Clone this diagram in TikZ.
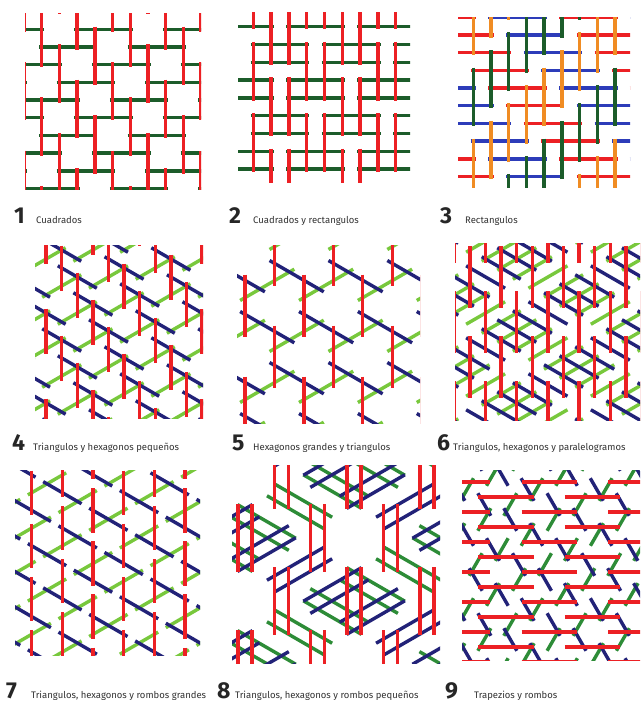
\documentclass[tikz,border=0pt]{standalone}
\usepackage{fontspec}
\setmainfont{Fira Sans}
\definecolor{dg}{RGB}{28,92,42}
\definecolor{rd}{RGB}{236,32,36}
\definecolor{nv}{RGB}{34,34,120}
\definecolor{lg}{RGB}{120,200,60}
\definecolor{mg}{RGB}{45,140,55}
\definecolor{bl}{RGB}{45,60,185}
\definecolor{og}{RGB}{240,140,35}
\tikzset{
 bar/.style={line width=3.4pt},
 bdg/.style={bar,draw=dg}, brd/.style={bar,draw=rd}, bnv/.style={bar,draw=nv},
 blg/.style={bar,draw=lg}, bmg/.style={bar,draw=mg}, bbl/.style={bar,draw=bl}, bog/.style={bar,draw=og},
 num/.style={anchor=base west,font=\fontsize{23}{23}\selectfont\bfseries,text=black!85,inner sep=0},
 lbl/.style={anchor=base west,font=\fontsize{9.5}{10}\selectfont,text=black!80,inner sep=0},
}
\newcommand\geom[6]{\def\ox{#1}\def\oy{#2}\def\ux{#3}\def\uy{#4}\def\vx{#5}\def\vy{#6}}
\newcommand\bars[4]{\def\bl{#1}\def\pp{#2}\def\ov{#3}\def\phx{#4}}
\newcommand\rng[4]{\def\nmin{#1}\def\nmax{#2}\def\mmin{#3}\def\mmax{#4}}
\newcommand\bshift[2]{\def\sx{#1}\def\sy{#2}}
\newcommand\barfam[2]{%
\foreach \n in {\nmin,...,\nmax}{%
 \pgfmathtruncatemacro\raw{\phx}%
 \pgfmathtruncatemacro\fph{mod(mod(\raw,\pp)+\pp,\pp)}%
 \pgfmathtruncatemacro\bq{floor(\raw/\pp)}%
 \foreach \m in {\mmin,...,\mmax}{%
  \pgfmathtruncatemacro\cc{mod(mod(\m+\bq,2)+2,2)}%
  \pgfmathsetmacro\tA{\pp*\m+\fph-\ov}%
  \pgfmathsetmacro\tB{\pp*\m+\fph+\bl+\ov}%
  \pgfmathsetmacro\xA{\ox+\n*\vx+\tA*\ux+\sx}%
  \pgfmathsetmacro\yA{\oy+\n*\vy+\tA*\uy+\sy}%
  \pgfmathsetmacro\xB{\ox+\n*\vx+\tB*\ux+\sx}%
  \pgfmathsetmacro\yB{\oy+\n*\vy+\tB*\uy+\sy}%
  \ifnum\cc=0 \draw[#1] (\xA,\yA) -- (\xB,\yB);\else\draw[#2] (\xA,\yA) -- (\xB,\yB);\fi
 }}}
\begin{document}
\begin{tikzpicture}[x=1pt,y=-1pt]
\useasboundingbox (0,0) rectangle (641,703);
\fill[white] (0,0) rectangle (641,703);
\bshift{0}{0}
% ---------- panel 1
\begin{scope}
\clip (25,14) rectangle (201,190);
\rng{-2}{10}{-2}{3}
\geom{41.7}{29.3}{17.7}{0}{0}{17.7}\bars{3}{5}{0.15}{2-2*(\n)}\barfam{bdg}{bdg}
\geom{41.7}{29.3}{0}{17.7}{17.7}{0}\bars{3}{5}{0.15}{4+2*(\n)}\barfam{brd}{brd}
\end{scope}
% ---------- panel 2
\begin{scope}
\clip (238,13) rectangle (410,183);
\rng{-2}{10}{-3}{4}
\geom{253.3}{26.7}{17.8}{0}{0}{17.8}\bars{3}{4}{0.15}{2*mod(mod(floor(((\n)+1)/2)+1,2)+2,2)}\barfam{bdg}{bdg}
\geom{253.3}{26.7}{0}{17.8}{17.8}{0}\bars{3}{4}{0.15}{1+2*mod(mod(floor(((\n)+1)/2),2)+2,2)}\barfam{brd}{brd}
\end{scope}
% ---------- panel 3
\begin{scope}
\clip (458,18) rectangle (630,188);
\rng{-2}{10}{-3}{4}
\geom{473.3}{35}{17.7}{0}{0}{17.7}\bars{3}{4}{0.15}{(\n)+2}\barfam{bbl}{brd}
\geom{473.3}{35}{0}{17.7}{17.7}{0}\bars{3}{4}{0.15}{2-(\n)}\barfam{bdg}{bog}
\end{scope}
% ---------- panel 4
\begin{scope}
\clip (35,245) rectangle (203,418);
\rng{-8}{16}{-4}{4}
\geom{61.7}{250}{15.59}{-9}{0}{18}\bars{2}{5}{0.25}{3*(\n)+3}\barfam{blg}{blg}
\geom{61.7}{250}{15.59}{9}{0}{18}\bars{2}{5}{0.25}{(\n)-1}\barfam{bnv}{bnv}
\geom{61.7}{250}{0}{18}{15.59}{9}\bars{2}{5}{0.25}{(\n)}\barfam{brd}{brd}
\end{scope}
% ---------- panel 5
\begin{scope}
\clip (237,245) rectangle (420,423);
\rng{-6}{12}{-5}{5}
\bshift{2.5}{4.33}
\geom{250}{255}{29.44}{-17}{0}{34}\bars{1}{3}{0.42}{2*(\n)+1}\barfam{blg}{blg}
\bshift{2.5}{-4.33}
\geom{250}{255}{29.44}{17}{0}{34}\bars{1}{3}{0.42}{(\n)+1}\barfam{bnv}{bnv}
\bshift{-5}{0}
\geom{250}{255}{0}{34}{29.44}{17}\bars{1}{3}{0.42}{(\n)+1}\barfam{brd}{brd}
\bshift{0}{0}
\end{scope}
% ---------- panel 6
\begin{scope}
\clip (455,243) rectangle (640,420);
\rng{-8}{16}{-5}{5}
\geom{470}{250}{15.59}{-9}{0}{18}\bars{2}{4}{0.25}{(\n)}\barfam{blg}{blg}
\geom{470}{250}{15.59}{9}{0}{18}\bars{2}{4}{0.25}{3*(\n)+1}\barfam{bnv}{bnv}
\geom{470}{250}{0}{18}{15.59}{9}\bars{3}{5}{0.2}{2*(\n)}\barfam{brd}{brd}
\end{scope}
% ---------- panel 7
\begin{scope}
\clip (15,470) rectangle (200,655);
\rng{-8}{12}{-6}{6}
\geom{31.7}{492.7}{15.33}{-8.85}{0}{35.4}\bars{2}{3}{0.25}{2*(\n)}\barfam{blg}{blg}
\geom{31.7}{475}{15.33}{8.85}{0}{35.4}\bars{2}{3}{0.25}{(\n)+1}\barfam{bnv}{bnv}
\geom{31.7}{475}{0}{17.7}{30.66}{17.7}\bars{2}{3}{0.25}{(\n)}\barfam{brd}{brd}
\end{scope}
% ---------- panel 8
\begin{scope}
\clip (232,465) rectangle (440,663);
\rng{-6}{12}{-5}{5}
\bshift{-3.5}{6.06}
\geom{245}{475}{36.37}{21}{0}{42}\bars{1}{3}{0.3}{2*(\n)+1}\barfam{bmg}{bmg}
\bshift{3.5}{-6.06}
\geom{245}{475}{36.37}{21}{0}{42}\bars{1}{3}{0.3}{2*(\n)+1}\barfam{bmg}{bmg}
\bshift{3.5}{6.06}
\geom{245}{475}{36.37}{-21}{0}{42}\bars{1}{3}{0.3}{(\n)+1}\barfam{bnv}{bnv}
\bshift{-3.5}{-6.06}
\geom{245}{475}{36.37}{-21}{0}{42}\bars{1}{3}{0.3}{(\n)+1}\barfam{bnv}{bnv}
\bshift{-7}{0}
\geom{245}{475}{0}{42}{36.37}{21}\bars{1}{3}{0.3}{(\n)+1}\barfam{brd}{brd}
\bshift{7}{0}
\geom{245}{475}{0}{42}{36.37}{21}\bars{1}{3}{0.3}{(\n)+1}\barfam{brd}{brd}
\bshift{0}{0}
\end{scope}
% ---------- panel 9
\begin{scope}
\clip (462,470) rectangle (640,660);
\rng{-10}{18}{-7}{7}
\geom{480}{497}{8.66}{-15}{8.66}{15}\bars{1}{4}{0.25}{2*(\n)+1}\barfam{bmg}{bmg}
\geom{480}{497}{8.66}{15}{17.3}{0}\bars{1}{4}{0.25}{(\n)}\barfam{bnv}{bnv}
\geom{480}{497}{17.3}{0}{8.66}{15}\bars{3}{5}{0.1}{2*(\n)}\barfam{brd}{brd}
\end{scope}
% ---------- labels
\node[num] (n1) at (14,223) {1};  \node[lbl] (c1) at (36,223) {Cuadrados};
\node[num] (n2) at (229,223) {2}; \node[lbl] (c2) at (253,223) {Cuadrados y rectangulos};
\node[num] (n3) at (440,223) {3}; \node[lbl] (c3) at (465,223) {Rectangulos};
\node[num] (n4) at (12,450) {4};  \node[lbl] (c4) at (33,450) {Triangulos y hexagonos pequeños};
\node[num] (n5) at (232,450) {5}; \node[lbl] (c5) at (253,450) {Hexagonos grandes y triangulos};
\node[num] (n6) at (437,450) {6}; \node[lbl] (c6) at (453,450) {Triangulos, hexagonos y paralelogramos};
\node[num] (n7) at (6,698) {7};   \node[lbl] (c7) at (31,698) {Triangulos, hexagonos y rombos grandes};
\node[num] (n8) at (217,698) {8}; \node[lbl] (c8) at (235,698) {Triangulos, hexagonos y rombos pequeños};
\node[num] (n9) at (445,698) {9}; \node[lbl] (c9) at (474,698) {Trapezios y rombos};
\end{tikzpicture}
\end{document}
